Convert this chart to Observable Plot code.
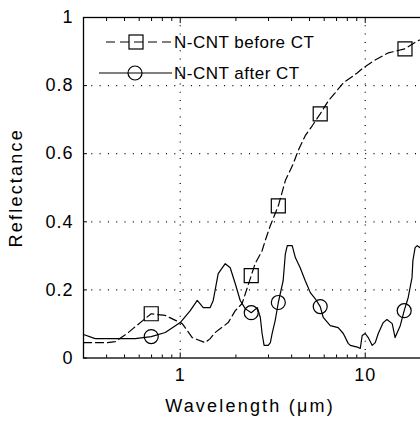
<!DOCTYPE html>
<html><head><meta charset="utf-8">
<script src="https://cdn.jsdelivr.net/npm/d3@7"></script>
<script src="https://cdn.jsdelivr.net/npm/@observablehq/plot@0.6"></script>
<style>
html,body{margin:0;padding:0;overflow:hidden;background:#fff;width:420px;height:424px}
#chart{position:relative;width:420px;height:424px;overflow:hidden}
#chart svg{max-width:none !important;display:block}
</style></head><body><div id="chart"></div>
<script>
const seriesNames = ["N-CNT before CT", "N-CNT after CT"];
const xLabel = "Wavelength (\u03bcm)";
const yLabel = "Reflectance";

const beforeWl = [0.3,0.403,0.445,0.517,0.557,0.697,0.83,1.025,1.161,1.365,1.452,1.546,1.817,1.984,2.16,2.42,2.54,2.77,2.88,3.07,3.39,3.70,4.08,4.34,4.74,5.17,5.71,6.31,6.88,7.61,9.05,9.75,11.05,13.3,16.4,19.1,21];
const beforeR  = [0.045,0.045,0.048,0.072,0.087,0.130,0.125,0.101,0.060,0.045,0.057,0.075,0.104,0.139,0.160,0.242,0.277,0.315,0.345,0.389,0.447,0.521,0.570,0.609,0.653,0.682,0.717,0.755,0.779,0.808,0.837,0.852,0.872,0.896,0.908,0.931,0.94];

const afterWl = [0.3,0.347,0.418,0.571,0.697,0.83,1.0,1.133,1.236,1.332,1.452,1.508,1.604,1.751,1.863,1.984,2.11,2.245,2.42,2.61,2.71,2.77,2.84,2.99,3.07,3.14,3.26,3.39,3.60,3.70,3.79,4.03,4.19,4.45,4.74,5.05,5.37,5.71,5.93,6.47,7.14,7.61,8.09,8.31,9.17,9.40,9.63,10.0,10.38,10.91,11.33,11.76,12.51,13.1,13.99,14.5,15.46,16.24,17.06,17.9,18.1,18.6,19.1,19.8,21];
const afterR  = [0.069,0.057,0.057,0.057,0.063,0.075,0.104,0.139,0.169,0.148,0.148,0.169,0.248,0.277,0.265,0.218,0.169,0.145,0.133,0.148,0.119,0.072,0.037,0.037,0.045,0.072,0.110,0.163,0.227,0.306,0.330,0.330,0.295,0.265,0.227,0.192,0.174,0.151,0.119,0.095,0.089,0.072,0.043,0.037,0.031,0.028,0.066,0.072,0.060,0.037,0.045,0.072,0.104,0.113,0.101,0.060,0.095,0.139,0.177,0.236,0.286,0.324,0.330,0.324,0.33];

const beforeMarkWl = [0.697,2.42,3.39,5.71,16.4];
const beforeMarkR  = [0.130,0.242,0.447,0.717,0.908];
const afterMarkWl  = [0.697,2.42,3.39,5.71,16.24];
const afterMarkR   = [0.063,0.133,0.163,0.151,0.139];

const xMajorTicks = [1,10];
const xMinorTicks = [0.4,0.5,0.6,0.7,0.8,0.9,2,3,4,5,6,7,8,9,20];
const yTicks = [0,0.2,0.4,0.6,0.8,1];
const yGrid = [0.2,0.4,0.6,0.8];

const before = beforeWl.map((x,i)=>({x, y: beforeR[i]}));
const after = afterWl.map((x,i)=>({x, y: afterR[i]}));
const beforeMarks = beforeMarkWl.map((x,i)=>({x, y: beforeMarkR[i]}));
const afterMarks = afterMarkWl.map((x,i)=>({x, y: afterMarkR[i]}));

const W = 480, H = 424, ML = 83, MT = 17, MB = 66.5;
const plot = Plot.plot({
  width: W, height: H,
  marginLeft: ML, marginRight: 27, marginTop: MT, marginBottom: MB,
  x: {type: "log", domain: [0.3, 30]},
  y: {domain: [0, 1]},
  style: {fontFamily: "'Liberation Sans', Arial, sans-serif", fontSize: "18px", color: "black", background: "white"},
  marks: [
    Plot.gridX(xMajorTicks, {stroke: "black", strokeOpacity: 1, strokeDasharray: "1,7.3", strokeWidth: 1.2}),
    Plot.gridY(yGrid, {stroke: "black", strokeOpacity: 1, strokeDasharray: "1,7.3", strokeWidth: 1.2}),
    Plot.axisX(xMajorTicks, {anchor: "bottom", tickSize: 0, tickPadding: 10, tickFormat: d => String(d), label: null, fontSize: 18}),
    Plot.axisX(xMajorTicks, {anchor: "bottom", tickSize: -5, text: null, label: null}),
    Plot.axisX(xMinorTicks, {anchor: "bottom", tickSize: -3, text: null, label: null}),
    Plot.axisX(xMajorTicks, {anchor: "top", tickSize: -5, text: null, label: null}),
    Plot.axisX(xMinorTicks, {anchor: "top", tickSize: -3, text: null, label: null}),
    Plot.axisY(yTicks, {anchor: "left", tickSize: 0, tickPadding: 10, tickFormat: d => String(d), label: null, fontSize: 18}),
    Plot.axisY(yTicks, {anchor: "left", tickSize: -4, text: null, label: null}),
    Plot.frame({stroke: "black", strokeWidth: 1.3}),
    Plot.line(before, {x: "x", y: "y", stroke: "black", strokeWidth: 1.2, strokeDasharray: "8,4"}),
    Plot.line(after, {x: "x", y: "y", stroke: "black", strokeWidth: 1.2}),
    Plot.dot(beforeMarks, {x: "x", y: "y", symbol: "square", r: 7.9, stroke: "black", fill: "none", strokeWidth: 1.2}),
    Plot.dot(afterMarks, {x: "x", y: "y", symbol: "circle", r: 7, stroke: "black", fill: "none", strokeWidth: 1.2}),
    Plot.text([yLabel], {text: d => d, frameAnchor: "left", textAnchor: "middle", dx: -67, rotate: -90, fontSize: 18}),
    Plot.text([xLabel], {text: d => d, frameAnchor: "bottom-left", textAnchor: "middle", dx: 166.5, dy: 53.5, fontSize: 18})
  ]
});
plot.style.maxWidth = "none";
document.getElementById("chart").appendChild(plot);

const svg = d3.select(plot);
svg.selectAll("text").filter(function(){ return this.textContent === xLabel || this.textContent === yLabel; })
  .attr("letter-spacing", "2.2px");
svg.selectAll("g[aria-label$='tick label'] text").attr("letter-spacing", "1px");

// legend
const leg = svg.append("g").attr("font-family", "'Liberation Sans', Arial, sans-serif").attr("font-size", 17).attr("text-anchor", "start");
const legY = [42, 73];
seriesNames.forEach((name, i) => {
  const y = legY[i];
  leg.append("line").attr("x1", i === 0 ? 106 : 99).attr("x2", 172).attr("y1", y).attr("y2", y)
    .attr("stroke", "black").attr("stroke-width", 1.2).attr("stroke-dasharray", i === 0 ? "9,5" : null);
  if (i === 0) leg.append("rect").attr("x", 129).attr("y", y - 7).attr("width", 14).attr("height", 14)
    .attr("fill", "none").attr("stroke", "black").attr("stroke-width", 1.2);
  else leg.append("circle").attr("cx", 135).attr("cy", y).attr("r", 7)
    .attr("fill", "none").attr("stroke", "black").attr("stroke-width", 1.2);
  leg.append("text").attr("x", 174).attr("y", y).attr("dy", "0.35em").attr("letter-spacing", "0.5px").text(name);
});
</script></body></html>
